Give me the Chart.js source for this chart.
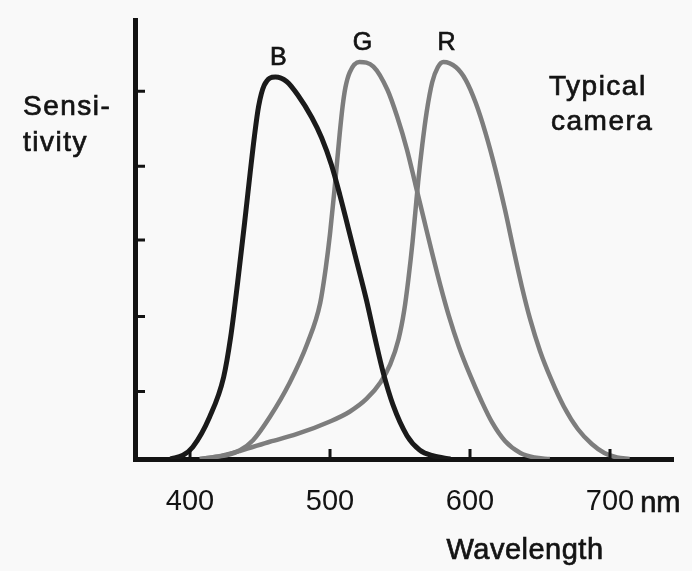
<!DOCTYPE html>
<html>
<head>
<meta charset="utf-8">
<script src="https://cdn.jsdelivr.net/npm/chart.js"></script>
<style>
  body { margin: 0; background: #f9f9f9; }
  #caixa { width: 692px; height: 571px; }
</style>
</head>
<body>
<div id="caixa"><canvas id="graficoCamera"></canvas></div>
<script>
// valores (comprimento de onda em nm, sensibilidade relativa)
const bWavelength = [386, 395, 402, 414, 424, 429, 434, 439, 443, 446, 449, 453, 461, 469, 477, 487, 494, 501, 507, 513, 518, 526, 532, 538, 545, 555, 564, 574, 586];
const bSensitivity = [0, 0.05, 0.16, 0.56, 1.09, 1.62, 2.35, 3.15, 3.82, 4.3, 4.7, 4.98, 5.09, 5.03, 4.85, 4.55, 4.28, 3.92, 3.52, 3.08, 2.71, 2.12, 1.62, 1.15, 0.72, 0.31, 0.12, 0.04, 0];

const gWavelength = [407, 419, 426, 436, 445, 457, 471, 484, 493, 497, 500, 503, 505, 507, 509, 511, 514, 521, 531, 541, 548, 555, 561, 567, 573, 579, 585, 592, 600, 608, 616, 625, 636, 646, 657];
const gSensitivity = [0, 0.03, 0.05, 0.12, 0.25, 0.56, 1.01, 1.55, 2.08, 2.55, 3.0, 3.55, 3.95, 4.35, 4.7, 4.95, 5.15, 5.29, 5.23, 4.92, 4.56, 4.12, 3.66, 3.2, 2.74, 2.3, 1.9, 1.5, 1.12, 0.78, 0.48, 0.24, 0.08, 0.02, 0];

const rWavelength = [407, 419, 436, 457, 476, 500, 514, 526, 536, 543, 549, 553, 556, 559, 561, 563, 566, 569, 573, 577, 581, 590, 597, 604, 611, 618, 625, 631, 637, 643, 650, 658, 667, 677, 687, 696, 705, 714];
const rSensitivity = [0, 0.03, 0.11, 0.23, 0.33, 0.5, 0.63, 0.8, 1.02, 1.26, 1.6, 1.98, 2.4, 2.9, 3.3, 3.7, 4.2, 4.62, 5.02, 5.22, 5.29, 5.22, 5.05, 4.75, 4.35, 3.87, 3.32, 2.8, 2.3, 1.86, 1.44, 1.06, 0.7, 0.4, 0.2, 0.08, 0.02, 0];

const xTicks = [400, 500, 600, 700];
const yTicks = [0.9, 1.9, 2.92, 3.9, 4.9];
const serieNomes = ['B', 'G', 'R'];

function montaPontos(xs, ys) {
  return xs.map((x, i) => ({ x: x, y: ys[i] }));
}

const fonte = "'Liberation Sans', Arial, sans-serif";
const tinta = '#131313';

function escreve(ctx, texto, x, y) {
  ctx.strokeText(texto, x, y);
  ctx.fillText(texto, x, y);
}

// marcas dos eixos (para dentro) e textos soltos
const textos = {
  id: 'textos',
  afterDraw(chart) {
    const ctx = chart.ctx;
    const xs = chart.scales.x;
    const ys = chart.scales.y;
    const area = chart.chartArea;
    ctx.save();
    ctx.strokeStyle = tinta;
    ctx.lineWidth = 3;
    ctx.beginPath();
    yTicks.forEach(v => {
      const py = ys.getPixelForValue(v);
      ctx.moveTo(area.left, py);
      ctx.lineTo(area.left + 10, py);
    });
    xTicks.forEach(v => {
      const px = xs.getPixelForValue(v);
      ctx.moveTo(px, area.bottom);
      ctx.lineTo(px, area.bottom - 10);
    });
    ctx.stroke();

    ctx.fillStyle = tinta;
    ctx.lineWidth = 0.7;
    ctx.textBaseline = 'alphabetic';
    ctx.textAlign = 'left';
    ctx.font = '28px ' + fonte;
    ctx.letterSpacing = '1.5px';
    escreve(ctx, 'Sensi-', 23, 115);
    escreve(ctx, 'tivity', 23, 151);
    escreve(ctx, 'Typical', 549, 95);
    escreve(ctx, 'camera', 551, 130);

    ctx.font = '29px ' + fonte;
    ctx.letterSpacing = '0.5px';
    ctx.textAlign = 'center';
    escreve(ctx, 'Wavelength', 525, 559);

    ctx.letterSpacing = '0px';
    ctx.textAlign = 'left';
    const fim700 = xs.getPixelForValue(700) + ctx.measureText('700').width / 2;
    escreve(ctx, 'nm', fim700 + 6, 512);

    // letras acima do pico de cada curva
    ctx.font = '25px ' + fonte;
    ctx.textAlign = 'center';
    chart.data.datasets.forEach((ds, i) => {
      let pico = ds.data[0];
      ds.data.forEach(p => { if (p.y > pico.y) pico = p; });
      escreve(ctx, serieNomes[i], xs.getPixelForValue(pico.x) + 3, ys.getPixelForValue(pico.y) - 12);
    });
    ctx.restore();
  }
};

const graficoCamera = new Chart(document.getElementById('graficoCamera'), {
  type: 'line',
  data: {
    datasets: [
      { label: 'B', data: montaPontos(bWavelength, bSensitivity), borderColor: '#1a1a1a', borderWidth: 5 },
      { label: 'G', data: montaPontos(gWavelength, gSensitivity), borderColor: '#7d7d7d', borderWidth: 4.5 },
      { label: 'R', data: montaPontos(rWavelength, rSensitivity), borderColor: '#7d7d7d', borderWidth: 4.5 }
    ]
  },
  options: {
    responsive: true,
    maintainAspectRatio: false,
    animation: false,
    layout: { padding: { left: 135, top: 20, right: 19, bottom: 0 } },
    elements: {
      point: { radius: 0 },
      line: { cubicInterpolationMode: 'monotone', fill: false }
    },
    plugins: {
      legend: { display: false },
      tooltip: { enabled: false }
    },
    scales: {
      x: {
        type: 'linear',
        min: 360.7,
        max: 745,
        afterBuildTicks: scale => { scale.ticks = xTicks.map(v => ({ value: v })); },
        afterFit: scale => { scale.height = 112; },
        ticks: {
          color: tinta,
          padding: 26,
          maxRotation: 0,
          font: { family: fonte, size: 29 },
          callback: v => String(v)
        },
        grid: { display: false, drawTicks: false },
        border: { display: true, width: 5, color: tinta }
      },
      y: {
        min: 0,
        max: 5.85,
        afterBuildTicks: scale => { scale.ticks = yTicks.map(v => ({ value: v })); },
        afterFit: scale => { scale.width = 0; },
        ticks: { display: false },
        grid: { display: false, drawTicks: false },
        border: { display: true, width: 5, color: tinta }
      }
    }
  },
  plugins: [textos]
});
</script>
</body>
</html>
